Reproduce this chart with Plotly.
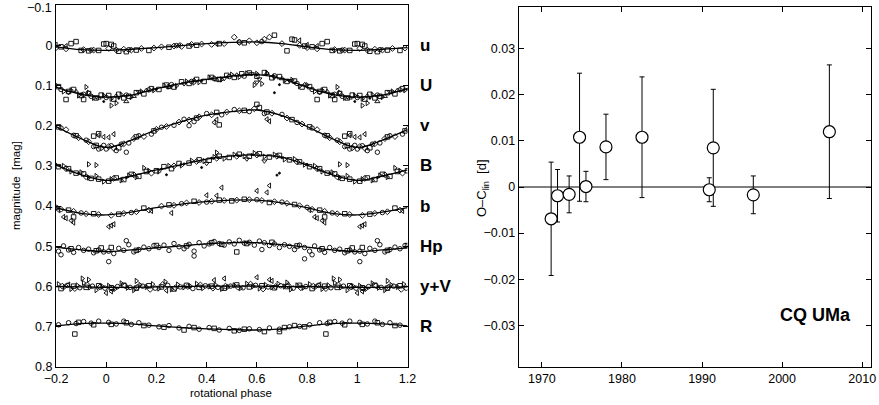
import plotly.graph_objects as go

# ---------------- Left panel: light curves (phase in [0,1), magnitude) ----------------
band_labels = ["u", "U", "v", "B", "b", "Hp", "y+V", "R"]
band_offsets = [0.0, 0.1, 0.2, 0.3, 0.4, 0.5, 0.6, 0.7]

fit_phase = [0.0, 0.1, 0.2, 0.3, 0.4, 0.5, 0.6, 0.7, 0.8, 0.9, 1.0]
fit_u = [0.013, 0.010, 0.006, 0.001, -0.004, -0.007, -0.008, -0.004, 0.004, 0.011, 0.013]
fit_U = [0.129, 0.124, 0.108, 0.095, 0.085, 0.077, 0.073, 0.083, 0.104, 0.122, 0.129]
fit_v = [0.254, 0.236, 0.210, 0.190, 0.174, 0.165, 0.161, 0.175, 0.202, 0.232, 0.254]
fit_B = [0.336, 0.325, 0.310, 0.297, 0.283, 0.275, 0.273, 0.278, 0.298, 0.322, 0.336]
fit_b = [0.422, 0.415, 0.404, 0.395, 0.389, 0.385, 0.385, 0.392, 0.404, 0.418, 0.422]
fit_Hp = [0.513, 0.509, 0.504, 0.499, 0.494, 0.491, 0.491, 0.496, 0.502, 0.509, 0.513]
fit_yV = [0.602, 0.602, 0.601, 0.600, 0.599, 0.599, 0.599, 0.600, 0.600, 0.601, 0.602]
fit_R = [0.691, 0.693, 0.698, 0.702, 0.705, 0.707, 0.708, 0.705, 0.698, 0.692, 0.691]

u_sq = [(0.00,-0.004),(0.02,-0.002),(0.03,0.002),(0.05,0.015),(0.08,0.016),(0.12,0.012),(0.17,0.013),(0.25,0.005),(0.33,0.002),(0.36,0.0),(0.45,-0.004),(0.55,-0.006),(0.67,-0.025),(0.72,0.014),(0.74,-0.015),(0.75,-0.013),(0.79,0.002),(0.82,0.004),(0.86,-0.004),(0.88,-0.009),(0.90,0.013),(0.93,0.014),(0.97,0.013),(0.99,-0.003)]
u_di = [(0.01,0.008),(0.04,0.012),(0.07,0.010),(0.10,0.012),(0.14,0.008),(0.19,0.007),(0.22,0.004),(0.27,0.002),(0.30,0.003),(0.34,-0.002),(0.38,-0.003),(0.42,-0.002),(0.47,-0.004),(0.51,-0.020),(0.53,-0.007),(0.57,-0.011),(0.60,-0.006),(0.63,-0.015),(0.65,-0.020),(0.70,-0.004),(0.77,0.000),(0.80,0.006),(0.84,0.009),(0.91,0.011),(0.95,0.012)]
u_tl = [(0.29,0.000),(0.44,-0.003),(0.77,-0.012),(0.80,-0.001),(0.84,0.002)]
u_ci = [(0.09,0.011),(0.28,0.001),(0.53,-0.008),(0.62,-0.009),(0.94,0.012)]

U_sq = [(0.01,0.125),(0.03,0.134),(0.05,0.122),(0.07,0.131),(0.09,0.127),(0.12,0.118),(0.15,0.121),(0.18,0.108),(0.21,0.110),(0.24,0.099),(0.27,0.104),(0.30,0.091),(0.33,0.095),(0.36,0.085),(0.39,0.090),(0.42,0.080),(0.45,0.085),(0.48,0.075),(0.51,0.080),(0.54,0.071),(0.57,0.069),(0.60,0.077),(0.63,0.068),(0.66,0.081),(0.69,0.078),(0.72,0.090),(0.75,0.089),(0.78,0.104),(0.81,0.103),(0.84,0.135),(0.85,0.115),(0.87,0.110),(0.90,0.125),(0.91,0.135),(0.93,0.120),(0.96,0.131),(0.98,0.124)]
U_tr = [(0.02,0.133),(0.02,0.150),(0.04,0.144),(0.06,0.123),(0.10,0.129),(0.14,0.115),(0.19,0.112),(0.23,0.100),(0.25,0.103),(0.28,0.101),(0.32,0.090),(0.35,0.093),(0.37,0.092),(0.41,0.080),(0.46,0.085),(0.50,0.073),(0.53,0.079),(0.56,0.070),(0.59,0.099),(0.60,0.071),(0.62,0.096),(0.64,0.069),(0.67,0.079),(0.71,0.088),(0.74,0.086),(0.77,0.102),(0.80,0.099),(0.83,0.115),(0.86,0.112),(0.89,0.125),(0.92,0.104),(0.93,0.118),(0.95,0.131),(0.99,0.125)]
U_tu = [(0.04,0.126),(0.08,0.140),(0.11,0.127),(0.16,0.112),(0.25,0.105),(0.35,0.087),(0.44,0.086),(0.52,0.074),(0.64,0.070),(0.70,0.083),(0.79,0.098),(0.88,0.115),(0.97,0.131)]
U_td = [(0.13,0.116),(0.31,0.096),(0.47,0.083),(0.58,0.071),(0.60,0.092),(0.61,0.084),(0.73,0.088),(0.85,0.118)]
U_ci = [(0.00,0.130),(0.08,0.124),(0.17,0.111),(0.26,0.098),(0.34,0.090),(0.43,0.083),(0.49,0.078),(0.55,0.077),(0.67,0.076),(0.76,0.095),(0.82,0.110),(0.91,0.122),(0.94,0.127)]
U_dt = [(0.05,0.132),(0.20,0.109),(0.38,0.088),(0.60,0.074),(0.67,0.118),(0.69,0.098),(0.75,0.094),(0.90,0.121),(0.99,0.140)]

v_ci = [(0.00,0.258),(0.02,0.250),(0.04,0.262),(0.06,0.246),(0.08,0.266),(0.09,0.243),(0.13,0.225),(0.18,0.221),(0.22,0.204),(0.27,0.199),(0.31,0.184),(0.33,0.200),(0.35,0.190),(0.40,0.170),(0.46,0.173),(0.51,0.160),(0.57,0.165),(0.63,0.170),(0.70,0.172),(0.76,0.192),(0.82,0.206),(0.87,0.224),(0.92,0.236),(0.95,0.252),(0.97,0.258),(0.99,0.249)]
v_di = [(0.01,0.252),(0.03,0.256),(0.07,0.245),(0.11,0.232),(0.15,0.227),(0.20,0.209),(0.24,0.202),(0.29,0.191),(0.33,0.186),(0.37,0.178),(0.42,0.173),(0.48,0.166),(0.53,0.163),(0.59,0.158),(0.66,0.169),(0.72,0.181),(0.78,0.196),(0.84,0.210),(0.89,0.230),(0.93,0.240),(0.98,0.255)]
v_sq = [(0.05,0.255),(0.12,0.228),(0.19,0.213),(0.36,0.181),(0.44,0.167),(0.45,0.198),(0.55,0.162),(0.60,0.147),(0.61,0.155),(0.64,0.166),(0.74,0.185),(0.81,0.203),(0.88,0.225),(0.95,0.226),(0.96,0.249),(0.97,0.220)]
v_tl = [(0.43,0.192),(0.44,0.185),(0.64,0.184),(0.65,0.189),(0.97,0.224),(0.99,0.228),(0.01,0.229),(0.03,0.221)]

B_sq = [(0.01,0.338),(0.04,0.330),(0.07,0.334),(0.10,0.321),(0.13,0.326),(0.16,0.314),(0.20,0.312),(0.23,0.302),(0.26,0.307),(0.29,0.294),(0.33,0.293),(0.37,0.285),(0.41,0.286),(0.45,0.276),(0.49,0.279),(0.53,0.271),(0.57,0.276),(0.61,0.270),(0.65,0.278),(0.69,0.274),(0.73,0.285),(0.77,0.290),(0.81,0.302),(0.85,0.307),(0.88,0.318),(0.91,0.320),(0.94,0.331),(0.97,0.333)]
B_tr = [(0.02,0.333),(0.06,0.336),(0.09,0.324),(0.12,0.328),(0.15,0.305),(0.17,0.312),(0.21,0.314),(0.25,0.300),(0.30,0.299),(0.34,0.287),(0.39,0.288),(0.43,0.278),(0.44,0.267),(0.47,0.282),(0.51,0.272),(0.55,0.276),(0.59,0.268),(0.63,0.277),(0.67,0.272),(0.71,0.284),(0.75,0.283),(0.79,0.297),(0.83,0.300),(0.86,0.314),(0.90,0.316),(0.93,0.329),(0.93,0.296),(0.96,0.325),(0.96,0.298),(0.99,0.339)]
B_di = [(0.03,0.331),(0.11,0.322),(0.18,0.318),(0.27,0.300),(0.36,0.289),(0.44,0.281),(0.52,0.276),(0.60,0.273),(0.68,0.276),(0.76,0.290),(0.84,0.307),(0.92,0.327)]
B_td = [(0.40,0.294),(0.56,0.283),(0.63,0.288)]
B_dt = [(0.08,0.329),(0.22,0.308),(0.24,0.322),(0.31,0.295),(0.38,0.304),(0.42,0.281),(0.58,0.272),(0.68,0.323),(0.69,0.318),(0.70,0.280),(0.80,0.296),(0.89,0.318)]

b_di = [(0.02,0.423),(0.07,0.418),(0.12,0.414),(0.17,0.410),(0.22,0.400),(0.27,0.398),(0.32,0.392),(0.37,0.391),(0.42,0.388),(0.47,0.386),(0.52,0.385),(0.57,0.384),(0.62,0.386),(0.67,0.389),(0.72,0.393),(0.77,0.399),(0.82,0.408),(0.87,0.413),(0.92,0.419),(0.97,0.421)]
b_sq = [(0.05,0.420),(0.15,0.405),(0.25,0.397),(0.35,0.388),(0.45,0.385),(0.50,0.387),(0.55,0.383),(0.65,0.391),(0.75,0.396),(0.85,0.410),(0.87,0.427),(0.95,0.419)]
b_ci = [(0.10,0.416),(0.30,0.394),(0.40,0.390),(0.60,0.384),(0.70,0.390),(0.80,0.403),(0.90,0.417)]
b_tl = [(0.01,0.451),(0.02,0.448),(0.03,0.445),(0.18,0.412),(0.26,0.417),(0.40,0.373),(0.44,0.374),(0.46,0.354),(0.60,0.362),(0.64,0.366),(0.65,0.349),(0.81,0.410),(0.83,0.427),(0.84,0.430),(0.86,0.436),(0.87,0.441)]

Hp_ci = [(0.01,0.512),(0.01,0.538),(0.03,0.518),(0.05,0.505),(0.07,0.510),(0.08,0.486),(0.09,0.496),(0.11,0.514),(0.13,0.508),(0.15,0.502),(0.17,0.506),(0.19,0.498),(0.21,0.503),(0.23,0.497),(0.25,0.510),(0.27,0.493),(0.29,0.501),(0.31,0.506),(0.33,0.495),(0.35,0.512),(0.35,0.524),(0.37,0.491),(0.39,0.499),(0.41,0.494),(0.43,0.488),(0.45,0.493),(0.47,0.497),(0.49,0.489),(0.51,0.494),(0.53,0.485),(0.55,0.492),(0.57,0.490),(0.59,0.497),(0.61,0.487),(0.62,0.508),(0.63,0.491),(0.65,0.498),(0.67,0.494),(0.69,0.503),(0.71,0.496),(0.73,0.500),(0.75,0.508),(0.77,0.497),(0.79,0.503),(0.79,0.531),(0.81,0.512),(0.82,0.521),(0.83,0.499),(0.85,0.509),(0.87,0.515),(0.89,0.503),(0.91,0.510),(0.93,0.507),(0.95,0.516),(0.97,0.509),(0.99,0.514)]
Hp_sq = [(0.02,0.503),(0.12,0.510),(0.20,0.498),(0.32,0.499),(0.42,0.491),(0.46,0.495),(0.52,0.514),(0.56,0.493),(0.66,0.490),(0.76,0.499),(0.86,0.506),(0.96,0.511),(0.98,0.504)]

yV_tr = [(0.01,0.598),(0.035,0.606),(0.06,0.592),(0.085,0.603),(0.11,0.609),(0.12,0.586),(0.135,0.596),(0.16,0.601),(0.185,0.594),(0.21,0.605),(0.235,0.588),(0.26,0.607),(0.285,0.595),(0.31,0.602),(0.335,0.599),(0.36,0.593),(0.385,0.604),(0.41,0.600),(0.435,0.596),(0.46,0.606),(0.485,0.601),(0.51,0.597),(0.535,0.604),(0.56,0.593),(0.585,0.599),(0.61,0.605),(0.635,0.596),(0.66,0.602),(0.685,0.593),(0.71,0.600),(0.72,0.590),(0.735,0.607),(0.76,0.597),(0.785,0.603),(0.81,0.594),(0.835,0.601),(0.86,0.606),(0.885,0.597),(0.905,0.580),(0.91,0.591),(0.93,0.583),(0.935,0.602),(0.96,0.609),(0.985,0.600)]
yV_sq = [(0.02,0.603),(0.07,0.597),(0.12,0.604),(0.17,0.598),(0.22,0.601),(0.27,0.606),(0.32,0.597),(0.37,0.602),(0.42,0.599),(0.47,0.604),(0.52,0.596),(0.57,0.601),(0.62,0.598),(0.67,0.603),(0.72,0.600),(0.77,0.597),(0.82,0.605),(0.87,0.599),(0.92,0.602),(0.97,0.598)]
yV_ci = [(0.045,0.600),(0.095,0.602),(0.145,0.599),(0.195,0.604),(0.245,0.597),(0.295,0.601),(0.345,0.605),(0.395,0.598),(0.445,0.602),(0.495,0.599),(0.545,0.603),(0.595,0.597),(0.645,0.601),(0.695,0.598),(0.745,0.604),(0.795,0.600),(0.845,0.597),(0.895,0.603),(0.945,0.599),(0.995,0.604)]
yV_di = [(0.025,0.605),(0.075,0.598),(0.125,0.601),(0.175,0.607),(0.225,0.595),(0.275,0.603),(0.325,0.600),(0.375,0.596),(0.425,0.604),(0.475,0.599),(0.525,0.602),(0.575,0.594),(0.625,0.606),(0.675,0.600),(0.725,0.597),(0.775,0.603),(0.825,0.599),(0.875,0.605),(0.925,0.596),(0.975,0.601)]
yV_tl = [(0.00,0.616),(0.02,0.612),(0.24,0.610),(0.43,0.584),(0.47,0.580),(0.60,0.577),(0.65,0.583),(0.66,0.586),(0.85,0.595)]

R_ci = [(0.01,0.689),(0.04,0.693),(0.07,0.686),(0.10,0.694),(0.13,0.690),(0.17,0.696),(0.21,0.700),(0.25,0.697),(0.29,0.703),(0.33,0.699),(0.37,0.706),(0.41,0.702),(0.45,0.708),(0.49,0.704),(0.53,0.709),(0.57,0.705),(0.61,0.707),(0.65,0.703),(0.69,0.706),(0.73,0.700),(0.77,0.699),(0.81,0.695),(0.85,0.690),(0.88,0.692),(0.91,0.687),(0.94,0.691),(0.97,0.686)]
R_sq = [(0.02,0.694),(0.08,0.690),(0.15,0.697),(0.23,0.701),(0.31,0.708),(0.35,0.702),(0.43,0.704),(0.51,0.710),(0.55,0.706),(0.63,0.712),(0.69,0.712),(0.71,0.702),(0.75,0.697),(0.79,0.700),(0.875,0.718),(0.89,0.689),(0.95,0.695)]

# ---------------- Right panel: O-C ----------------
oc_year = [1971.15, 1971.95, 1973.4, 1974.7, 1975.5, 1978.0, 1982.5, 1990.9, 1991.4, 1996.4, 2005.9]
oc_val = [-0.0069, -0.0019, -0.0016, 0.0108, 0.0001, 0.0087, 0.0108, -0.0006, 0.0085, -0.0017, 0.0120]
oc_err = [0.0123, 0.0057, 0.0040, 0.0139, 0.0033, 0.0071, 0.0131, 0.0026, 0.0127, 0.0041, 0.0145]

x1_ticks = [-0.2, 0, 0.2, 0.4, 0.6, 0.8, 1, 1.2]
y1_ticks = [-0.1, 0, 0.1, 0.2, 0.3, 0.4, 0.5, 0.6, 0.7, 0.8]
x2_ticks = [1970, 1980, 1990, 2000, 2010]
y2_ticks = [-0.03, -0.02, -0.01, 0, 0.01, 0.02, 0.03]


def fmt(v):
    s = ("%g" % v)
    return s.replace("-", "\u2212")


def extend(points):
    xs, ys = [], []
    for p, m in points:
        xs.append(p); ys.append(m)
        if p >= 0.8:
            xs.append(p - 1); ys.append(m)
        if p <= 0.2:
            xs.append(p + 1); ys.append(m)
    return xs, ys


def extend_fit(ph, vals):
    xs, ys = [], []
    for p, m in zip(ph, vals):
        if p >= 0.8 and p < 1.0:
            xs.append(p - 1); ys.append(m)
    xs += list(ph); ys += list(vals)
    for p, m in zip(ph, vals):
        if 0 < p <= 0.2:
            xs.append(p + 1); ys.append(m)
    order = sorted(range(len(xs)), key=lambda i: xs[i])
    return [xs[i] for i in order], [ys[i] for i in order]


fig = go.Figure()

marker_sets = [
    (u_sq, "square-open"), (u_di, "diamond-open"), (u_tl, "triangle-left-open"), (u_ci, "circle-open"),
    (U_sq, "square-open"), (U_tr, "triangle-right-open"), (U_tu, "triangle-up-open"), (U_td, "triangle-down-open"),
    (U_ci, "circle-open"), (U_dt, "circle"),
    (v_ci, "circle-open"), (v_di, "diamond-open"), (v_sq, "square-open"), (v_tl, "triangle-left-open"),
    (B_sq, "square-open"), (B_tr, "triangle-right-open"), (B_di, "diamond-open"), (B_td, "triangle-down-open"), (B_dt, "circle"),
    (b_di, "diamond-open"), (b_sq, "square-open"), (b_ci, "circle-open"), (b_tl, "triangle-left-open"),
    (Hp_ci, "circle-open"), (Hp_sq, "square-open"),
    (yV_tr, "triangle-right-open"), (yV_sq, "square-open"), (yV_ci, "circle-open"), (yV_di, "diamond-open"), (yV_tl, "triangle-left-open"),
    (R_ci, "circle-open"), (R_sq, "square-open"),
]

for pts, sym in marker_sets:
    xs, ys = extend(pts)
    size = 2 if sym == "circle" else 4.5
    fig.add_trace(go.Scatter(x=xs, y=ys, mode="markers", xaxis="x", yaxis="y",
                             marker=dict(symbol=sym, size=size, color="black",
                                         line=dict(color="black", width=0.9)),
                             showlegend=False, hoverinfo="skip"))

for fv in [fit_u, fit_U, fit_v, fit_B, fit_b, fit_Hp, fit_yV, fit_R]:
    xs, ys = extend_fit(fit_phase, fv)
    fig.add_trace(go.Scatter(x=xs, y=ys, mode="lines", xaxis="x", yaxis="y",
                             line=dict(color="black", width=1.3, shape="spline", smoothing=1.0),
                             showlegend=False, hoverinfo="skip"))

# right panel
fig.add_trace(go.Scatter(x=[1967.1, 2011.1], y=[0, 0], mode="lines", xaxis="x2", yaxis="y2",
                         line=dict(color="black", width=1), showlegend=False, hoverinfo="skip"))
fig.add_trace(go.Scatter(x=oc_year, y=oc_val, mode="markers", xaxis="x2", yaxis="y2",
                         error_y=dict(type="data", array=oc_err, color="black", thickness=1, width=2.5),
                         marker=dict(symbol="circle", size=12, color="white",
                                     line=dict(color="black", width=1.2)),
                         showlegend=False, hoverinfo="skip"))

tick_font = dict(family="Liberation Sans, Arial, sans-serif", size=12.5, color="black")
axis_common = dict(showline=True, linecolor="black", linewidth=1, mirror="allticks",
                   ticks="inside", ticklen=5, tickcolor="black", tickwidth=1,
                   showgrid=False, zeroline=False, automargin=False,
                   tickfont=tick_font)

# top tick label of the left y axis is drawn as an annotation so it stays inside the page
y1_text = [fmt(v) for v in y1_ticks]
top_label = y1_text[0]
y1_text[0] = ""

fig.update_layout(
    template="none",
    width=879, height=405,
    margin=dict(l=0, r=0, t=0, b=0, pad=0),
    paper_bgcolor="white", plot_bgcolor="white",
    font=dict(family="Liberation Sans, Arial, sans-serif", color="black"),
    xaxis=dict(domain=[56/879, 407.5/879], range=[-0.2, 1.2], anchor="y",
               tickvals=x1_ticks, ticktext=[fmt(v) for v in x1_ticks], **axis_common),
    yaxis=dict(domain=[(405-367)/405, (405-5)/405], range=[0.8, -0.1], anchor="x",
               tickvals=y1_ticks, ticktext=y1_text, **axis_common),
    xaxis2=dict(domain=[518.7/879, 871/879], range=[1967.1, 2011.1], anchor="y2",
                tickvals=x2_ticks, ticktext=[str(v) for v in x2_ticks], **axis_common),
    yaxis2=dict(domain=[(405-366.7)/405, (405-7.3)/405], range=[-0.039, 0.039], anchor="x2",
                tickvals=y2_ticks, ticktext=[fmt(v) for v in y2_ticks], **axis_common),
)

annotations = []
annotations.append(dict(text=top_label, x=56/879, xref="paper", xanchor="right", xshift=-2,
                        y=1, yref="paper", yanchor="top", yshift=1, showarrow=False,
                        font=tick_font))
for lab, off in zip(band_labels, band_offsets):
    annotations.append(dict(text="<b>%s</b>" % lab, x=418/879, xref="paper", xanchor="left",
                            y=off, yref="y", yanchor="middle", showarrow=False,
                            font=dict(size=17, color="black", family="Liberation Sans, Arial, sans-serif")))
annotations.append(dict(text="magnitude  [mag]", x=16/879, xref="paper", xanchor="center",
                        y=(405-186)/405, yref="paper", yanchor="middle", textangle=-90, showarrow=False,
                        font=dict(size=11.5, color="black")))
annotations.append(dict(text="rotational phase", x=231/879, xref="paper", xanchor="center",
                        y=(405-393)/405, yref="paper", yanchor="middle", showarrow=False,
                        font=dict(size=11.5, color="black")))
annotations.append(dict(text="O\u2013C<sub>lin</sub>  [d]", x=482/879, xref="paper", xanchor="center",
                        y=(405-188)/405, yref="paper", yanchor="middle", textangle=-90, showarrow=False,
                        font=dict(size=13, color="black")))
annotations.append(dict(text="<b>CQ UMa</b>", x=853/879, xref="paper", xanchor="right",
                        y=(405-315)/405, yref="paper", yanchor="middle", showarrow=False,
                        font=dict(size=18, color="black")))
fig.update_layout(annotations=annotations)

fig.write_html("out.html")
